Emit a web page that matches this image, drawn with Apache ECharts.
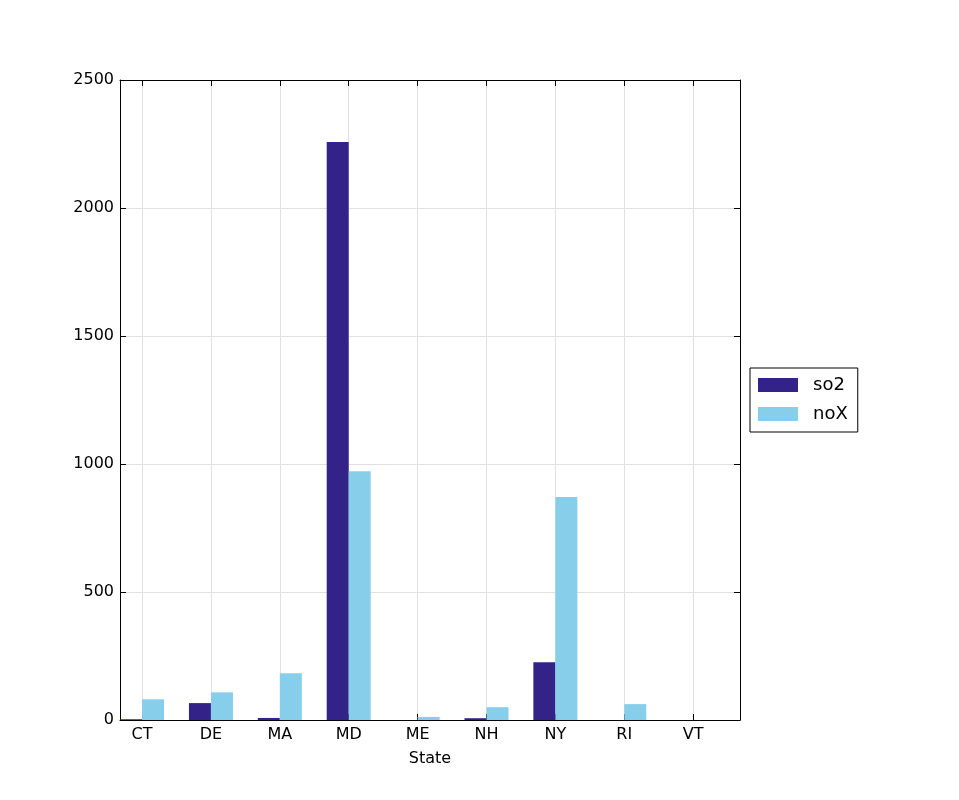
<!DOCTYPE html>
<html>
<head>
<meta charset="utf-8">
<script src="https://cdn.jsdelivr.net/npm/echarts@6/dist/echarts.min.js"></script>
<style>
  html, body { margin: 0; padding: 0; background: #fff; }
  #chart { width: 959px; height: 800px; }
</style>
</head>
<body>
<div id="chart"></div>
<script>
const states = ['CT', 'DE', 'MA', 'MD', 'ME', 'NH', 'NY', 'RI', 'VT']
const so2 = [3, 66, 8, 2258, 0, 7, 226, 0, 0]
const nox = [81, 108, 183, 972, 12, 50, 871, 62, 0]
const yTicks = [0, 500, 1000, 1500, 2000, 2500]

const FONT = 'DejaVu Sans'
const positions = states.map(function (s, i) { return i })

function frameAxis (extra) {
  return Object.assign({
    axisLine: { show: true, onZero: false, lineStyle: { color: '#000', width: 1 } },
    axisTick: { show: true, inside: true, length: 6, lineStyle: { color: '#000' } },
    splitLine: { show: false }
  }, extra)
}

const chart = echarts.init(document.getElementById('chart'))
const option = {
  backgroundColor: '#fff',
  animation: false,
  textStyle: { fontFamily: FONT },
  grid: { left: 120, right: 219, top: 80, bottom: 80 },
  legend: {
    orient: 'vertical',
    left: 750,
    top: 368,
    data: ['so2', 'noX'],
    icon: 'rect',
    itemWidth: 40,
    itemHeight: 14,
    itemGap: 11,
    padding: [8, 10, 9, 8],
    borderColor: '#000',
    borderWidth: 1,
    backgroundColor: '#fff',
    textStyle: { fontFamily: FONT, fontSize: 18, color: '#000', padding: [0, 0, 0, 10] }
  },
  xAxis: [
    frameAxis({
      type: 'value',
      min: -0.32,
      max: 8.68,
      position: 'bottom',
      name: 'State',
      nameLocation: 'middle',
      nameGap: 31,
      nameTextStyle: { fontFamily: FONT, fontSize: 16, color: '#000' },
      axisTick: { show: true, inside: true, length: 6, customValues: positions, lineStyle: { color: '#000' } },
      axisLabel: {
        customValues: positions,
        margin: 7,
        fontFamily: FONT,
        fontSize: 16,
        color: '#000',
        formatter: function (v) { return states[Math.round(v)] }
      },
      splitLine: { show: true, lineStyle: { color: '#e0e0e0', width: 1 } }
    }),
    frameAxis({
      type: 'value',
      min: -0.32,
      max: 8.68,
      position: 'top',
      axisTick: { show: true, inside: true, length: 6, customValues: positions, lineStyle: { color: '#000' } },
      axisLabel: { show: false }
    })
  ],
  yAxis: [
    frameAxis({
      type: 'value',
      min: 0,
      max: 2500,
      interval: 500,
      position: 'left',
      axisLabel: {
        margin: 6,
        fontFamily: FONT,
        fontSize: 16,
        color: '#000',
        formatter: function (v) { return String(v) }
      },
      splitLine: { show: true, lineStyle: { color: '#e0e0e0', width: 1 } }
    }),
    frameAxis({
      type: 'value',
      min: 0,
      max: 2500,
      interval: 500,
      position: 'right',
      axisLabel: { show: false }
    })
  ],
  series: [
    {
      name: 'so2',
      type: 'bar',
      barWidth: 22,
      barGap: '0%',
      itemStyle: { color: '#332288' },
      data: so2.map(function (v, i) { return [positions[i], v] })
    },
    {
      name: 'noX',
      type: 'bar',
      barWidth: 22,
      barGap: '0%',
      itemStyle: { color: '#87CEEB' },
      data: nox.map(function (v, i) { return [positions[i], v] })
    }
  ]
}
chart.setOption(option)
</script>
</body>
</html>
